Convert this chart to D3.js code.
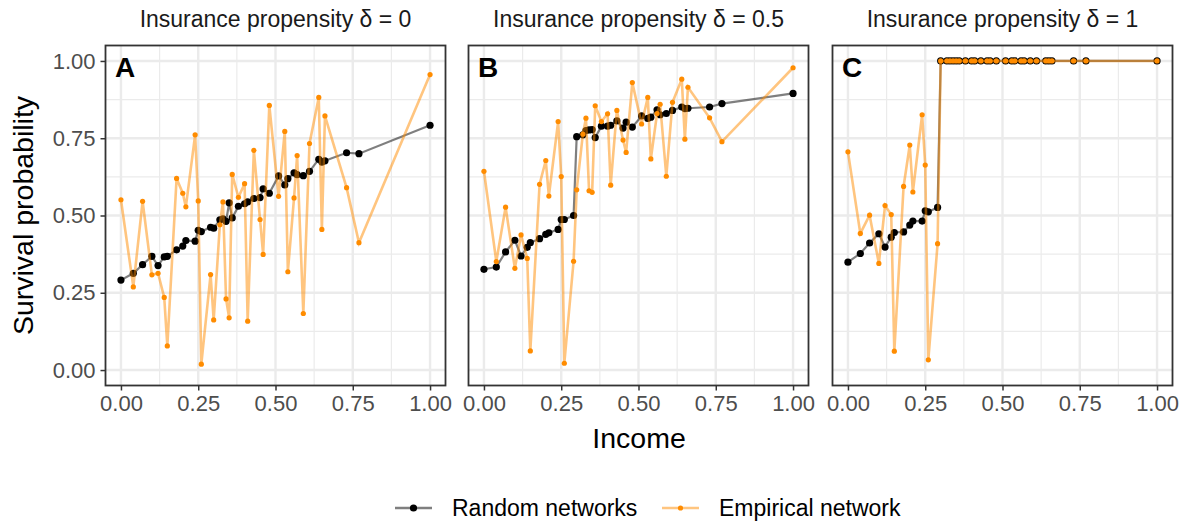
<!DOCTYPE html>
<html>
<head>
<meta charset="utf-8">
<script src="https://cdn.jsdelivr.net/npm/d3@7"></script>
<style>
  body { margin: 0; background: #fff; }
  svg { font-family: "Liberation Sans", Arial, Helvetica, sans-serif; }
</style>
</head>
<body>
<div id="chart"></div>
<script>
// data: incomes are shared by all three panels
var income = [0, 0.04, 0.07, 0.10, 0.12, 0.14, 0.15, 0.18, 0.20, 0.21,
              0.24, 0.25, 0.26, 0.29, 0.30, 0.32, 0.33, 0.34, 0.35, 0.36,
              0.38, 0.40, 0.41, 0.43, 0.45, 0.46, 0.48, 0.51, 0.53, 0.54,
              0.56, 0.57, 0.59, 0.61, 0.64, 0.65, 0.66, 0.73, 0.77, 1.00];

var randomA = [0.291, 0.313, 0.341, 0.368, 0.338, 0.366, 0.368, 0.389, 0.401, 0.419,
               0.417, 0.452, 0.448, 0.462, 0.459, 0.486, 0.489, 0.481, 0.541, 0.492,
               0.530, 0.538, 0.544, 0.555, 0.558, 0.586, 0.572, 0.628, 0.599, 0.619,
               0.638, 0.632, 0.629, 0.643, 0.682, 0.673, 0.677, 0.703, 0.700, 0.792];
var empiricalA = [0.551, 0.269, 0.546, 0.308, 0.313, 0.235, 0.078, 0.620, 0.572, 0.528,
                  0.761, 0.547, 0.019, 0.309, 0.162, 0.470, 0.544, 0.230, 0.169, 0.633,
                  0.559, 0.603, 0.158, 0.711, 0.487, 0.374, 0.856, 0.562, 0.772, 0.318,
                  0.557, 0.694, 0.183, 0.733, 0.882, 0.455, 0.822, 0.590, 0.412, 0.956];

var randomB = [0.326, 0.333, 0.382, 0.420, 0.369, 0.397, 0.412, 0.425, 0.439, 0.444,
               0.455, 0.487, 0.487, 0.500, 0.755, 0.761, 0.775, 0.777, 0.778, 0.752,
               0.789, 0.789, 0.792, 0.806, 0.783, 0.802, 0.786, 0.822, 0.814, 0.818,
               0.842, 0.826, 0.830, 0.840, 0.851, 0.846, 0.847, 0.851, 0.862, 0.895];
var empiricalB = [0.643, 0.351, 0.527, 0.329, 0.437, 0.361, 0.062, 0.601, 0.678, 0.563,
                  0.804, 0.626, 0.022, 0.352, 0.583, 0.763, 0.815, 0.580, 0.575, 0.855,
                  0.804, 0.829, 0.598, 0.840, 0.744, 0.704, 0.930, 0.796, 0.882, 0.683,
                  0.830, 0.860, 0.627, 0.866, 0.941, 0.747, 0.915, 0.816, 0.739, 0.978];

var randomC = [0.349, 0.377, 0.411, 0.441, 0.398, 0.430, 0.445, 0.447, 0.469, 0.482,
               0.482, 0.515, 0.512, 0.526, 1, 1, 1, 1, 1, 1,
               1, 1, 1, 1, 1, 1, 1, 1, 1, 1,
               1, 1, 1, 1, 1, 1, 1, 1, 1, 1];
var empiricalC = [0.706, 0.442, 0.501, 0.345, 0.532, 0.503, 0.061, 0.594, 0.728, 0.576,
                  0.826, 0.663, 0.033, 0.409, 1, 1, 1, 1, 1, 1,
                  1, 1, 1, 1, 1, 1, 1, 1, 1, 1,
                  1, 1, 1, 1, 1, 1, 1, 1, 1, 1];

var panelTitles = ["Insurance propensity \u03b4 = 0",
                   "Insurance propensity \u03b4 = 0.5",
                   "Insurance propensity \u03b4 = 1"];
var panelLetters = ["A", "B", "C"];
var tickValues = [0, 0.25, 0.5, 0.75, 1];
var minorValues = [0.125, 0.375, 0.625, 0.875];
var seriesNames = ["Random networks", "Empirical network"];

// size and layout
var width = 1189;
var height = 521;
var panelLeft = [105.5, 468.5, 832.5];
var panelWidth = 340;
var panelTop = 45.5;
var panelBottom = 385.5;

// colours
var random_color = "#000000";
var empirical_color = "#ff8c00";

var svg = d3.select("#chart")
            .append("svg")
            .attr("width", width)
            .attr("height", height);

var xScale = d3.scaleLinear()
               .domain([-0.05, 1.05])
               .range([0, panelWidth]);
var yScale = d3.scaleLinear()
               .domain([-0.05, 1.05])
               .range([panelBottom, panelTop]);

var panels = [
  {random: randomA, empirical: empiricalA},
  {random: randomB, empirical: empiricalB},
  {random: randomC, empirical: empiricalC}
];

panels.forEach(function(p, i) {
  var g = svg.append("g")
             .attr("transform", "translate(" + panelLeft[i] + ",0)");

  // minor grid
  g.selectAll(".minor_x").data(minorValues).enter().append("line")
   .attr("x1", function(d) { return xScale(d); })
   .attr("x2", function(d) { return xScale(d); })
   .attr("y1", panelTop).attr("y2", panelBottom)
   .attr("stroke", "#ebebeb").attr("stroke-width", 1.2);
  g.selectAll(".minor_y").data(minorValues).enter().append("line")
   .attr("x1", 0).attr("x2", panelWidth)
   .attr("y1", function(d) { return yScale(d); })
   .attr("y2", function(d) { return yScale(d); })
   .attr("stroke", "#ebebeb").attr("stroke-width", 1.2);
  // major grid
  g.selectAll(".major_x").data(tickValues).enter().append("line")
   .attr("x1", function(d) { return xScale(d); })
   .attr("x2", function(d) { return xScale(d); })
   .attr("y1", panelTop).attr("y2", panelBottom)
   .attr("stroke", "#ebebeb").attr("stroke-width", 2.4);
  g.selectAll(".major_y").data(tickValues).enter().append("line")
   .attr("x1", 0).attr("x2", panelWidth)
   .attr("y1", function(d) { return yScale(d); })
   .attr("y2", function(d) { return yScale(d); })
   .attr("stroke", "#ebebeb").attr("stroke-width", 2.4);

  // x axis
  var xAxis = g.append("g")
               .attr("transform", "translate(0," + panelBottom + ")")
               .call(d3.axisBottom(xScale)
                       .tickValues(tickValues)
                       .tickFormat(d3.format(".2f"))
                       .tickSize(5)
                       .tickSizeOuter(0)
                       .tickPadding(5));
  xAxis.select(".domain").remove();
  xAxis.selectAll("line").attr("stroke", "#333333").attr("stroke-width", 1.5);
  xAxis.selectAll("text").attr("fill", "#4d4d4d")
       .attr("font-size", 22).attr("font-family", null);

  // y axis only on first panel
  if (i === 0) {
    var yAxis = g.append("g")
                 .call(d3.axisLeft(yScale)
                         .tickValues(tickValues)
                         .tickFormat(d3.format(".2f"))
                         .tickSize(5)
                         .tickSizeOuter(0)
                         .tickPadding(5));
    yAxis.select(".domain").remove();
    yAxis.selectAll("line").attr("stroke", "#333333").attr("stroke-width", 1.5);
    yAxis.selectAll("text").attr("fill", "#4d4d4d")
         .attr("font-size", 22).attr("font-family", null);
  }

  var data = income.map(function(x, k) {
    return {x: x, random: p.random[k], empirical: p.empirical[k]};
  });

  // random networks
  var randomLine = d3.line()
                     .x(function(d) { return xScale(d.x); })
                     .y(function(d) { return yScale(d.random); });
  g.append("path")
   .datum(data)
   .attr("fill", "none")
   .attr("stroke", random_color)
   .attr("stroke-opacity", 0.5)
   .attr("stroke-width", 2.2)
   .attr("d", randomLine);
  g.selectAll(".random_point").data(data).enter().append("circle")
   .attr("cx", function(d) { return xScale(d.x); })
   .attr("cy", function(d) { return yScale(d.random); })
   .attr("r", 3.6)
   .attr("fill", random_color);

  // empirical network
  var empiricalLine = d3.line()
                        .x(function(d) { return xScale(d.x); })
                        .y(function(d) { return yScale(d.empirical); });
  g.append("path")
   .datum(data)
   .attr("fill", "none")
   .attr("stroke", empirical_color)
   .attr("stroke-opacity", 0.5)
   .attr("stroke-width", 2.6)
   .attr("d", empiricalLine);
  g.selectAll(".empirical_point").data(data).enter().append("circle")
   .attr("cx", function(d) { return xScale(d.x); })
   .attr("cy", function(d) { return yScale(d.empirical); })
   .attr("r", 2.6)
   .attr("fill", empirical_color);

  // panel border
  g.append("rect")
   .attr("x", 0).attr("y", panelTop)
   .attr("width", panelWidth).attr("height", panelBottom - panelTop)
   .attr("fill", "none")
   .attr("stroke", "#333333")
   .attr("stroke-width", 1.8);

  // letter and title
  g.append("text")
   .text(panelLetters[i])
   .attr("x", 9.5).attr("y", 77)
   .attr("font-size", 28).attr("font-weight", "bold")
   .attr("fill", "#000");
  g.append("text")
   .text(panelTitles[i])
   .attr("x", panelWidth / 2).attr("y", 27)
   .attr("text-anchor", "middle")
   .attr("font-size", 23)
   .attr("fill", "#1a1a1a");
});

// axis titles
svg.append("text")
   .text("Income")
   .attr("x", (panelLeft[0] + panelLeft[2] + panelWidth) / 2)
   .attr("y", 448)
   .attr("text-anchor", "middle")
   .attr("font-size", 28.5)
   .attr("fill", "#000");
svg.append("text")
   .text("Survival probability")
   .attr("transform", "translate(33," + (panelTop + panelBottom) / 2 + ") rotate(-90)")
   .attr("text-anchor", "middle")
   .attr("font-size", 28.5)
   .attr("fill", "#000");

// legend
var legendY = 508;
var legendX = [395, 662];
var legendStyle = [
  {line: random_color, lineOpacity: 0.5, dot: random_color, r: 3.6},
  {line: empirical_color, lineOpacity: 0.5, dot: empirical_color, r: 2.6}
];
seriesNames.forEach(function(name, i) {
  var lg = svg.append("g").attr("transform", "translate(" + legendX[i] + "," + legendY + ")");
  lg.append("line")
    .attr("x1", 0).attr("x2", 37).attr("y1", 0).attr("y2", 0)
    .attr("stroke", legendStyle[i].line)
    .attr("stroke-opacity", legendStyle[i].lineOpacity)
    .attr("stroke-width", 2.6);
  lg.append("circle")
    .attr("cx", 18.5).attr("cy", 0).attr("r", legendStyle[i].r)
    .attr("fill", legendStyle[i].dot);
  lg.append("text")
    .text(name)
    .attr("x", 57).attr("y", 7.5)
    .attr("font-size", 23)
    .attr("fill", "#000");
});
</script>
</body>
</html>
